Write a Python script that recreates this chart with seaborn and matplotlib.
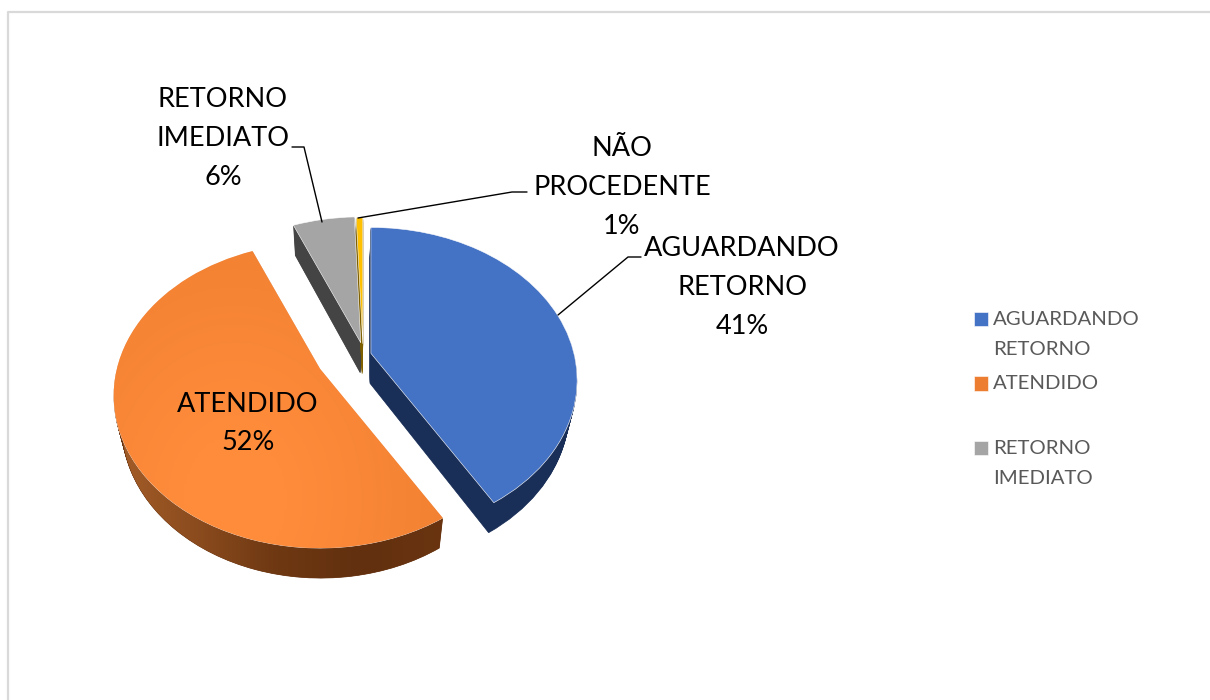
#!/usr/bin/env python3

import numpy as np
import matplotlib
matplotlib.use("Agg")
import matplotlib.pyplot as plt
from matplotlib.patches import Polygon, PathPatch
from matplotlib.transforms import Transform, Affine2D
import seaborn as sns

# Data
CATEGORIES = ["AGUARDANDO\nRETORNO", "ATENDIDO", "RETORNO\nIMEDIATO", "NÃO\nPROCEDENTE"]
VALUES = [41.4, 52.3, 5.7, 0.6]
EXPLODE = [0.13, 0.13, 0.124, 0.10]
LEGEND_LABELS = ["AGUARDANDO\nRETORNO", "ATENDIDO\n ", "RETORNO\nIMEDIATO"]

TOP_COLORS = ["#4472C4", "#ED7D31", "#A5A5A5", "#FFC000"]
SIDE_COLORS = ["#1A2F58", "#66320F", "#444444", "#7F6000"]

# Layout of the fake 3D pie, in output pixels
CX, CY = 345.5, 358.5
RX, RY, TILT = 203.0, 148.0, 0.175
DEPTH, SHRINK = 30, 0.965
NUDGE = [(0, 0), (-0.01, -0.01), (0.102, -0.015), (0.087, 0)]


class Perspective(Transform):
    ''' Tilts one flat slice around its tip, the far side gets smaller. '''
    input_dims = 2
    output_dims = 2

    def __init__(self, center):
        super().__init__()
        self.center = center

    def transform_non_affine(self, xy):
        u0, v0 = self.center
        xy = np.asarray(xy, dtype=float)
        u, v = xy[:, 0] - u0, xy[:, 1] - v0
        w = 1 + TILT * v
        return np.column_stack([CX + RX * u0 + RX * u / w, CY - RY * v0 - RY * v / w])


def drop(d):
    ''' Moves the top face down to depth d. '''
    s = 1 - (1 - SHRINK) * d / DEPTH
    return Affine2D().translate(-CX, 0).scale(s, 1).translate(CX, d)


sns.set_theme(style="white")
plt.rcParams["font.family"] = ["Lato", "DejaVu Sans"]

fig = plt.figure(figsize=(12.1, 7.0), dpi=100)
ax = fig.add_axes([0, 0, 1, 1])

palette = sns.color_palette(TOP_COLORS)
wedges = ax.pie(VALUES, explode=EXPLODE, startangle=90, counterclock=False, colors=palette,
                wedgeprops={"edgecolor": "#FFFFFF", "linewidth": 0.4, "zorder": 3})[0]

planes = []
for wedge, side, (nx, ny) in zip(wedges, SIDE_COLORS, NUDGE):
    wedge.set_center((wedge.center[0] + nx, wedge.center[1] + ny))
    plane = Perspective(wedge.center)
    planes.append(plane)
    wedge.set_transform(plane + ax.transData)
    # side wall: copies of the slice going down
    for d in range(1, DEPTH + 1):
        ax.add_patch(PathPatch(wedge.get_path(),
                               transform=wedge.get_patch_transform() + plane + drop(d) + ax.transData,
                               facecolor=side, edgecolor=side, linewidth=0.5, zorder=2))

# Orange slice has shading, on the top face and the round wall
orange = wedges[1]
theta = np.radians(np.linspace(max(orange.theta1, -185), orange.theta2, 200))
arc = np.column_stack([orange.center[0] + np.cos(theta), orange.center[1] + np.sin(theta)])
arc_top = planes[1].transform(arc)
arc_low = drop(DEPTH).transform(arc_top)
wall = Polygon(np.vstack([arc_top, arc_low[::-1]]), transform=ax.transData)

wall_cmap = sns.blend_palette(["#A55E29", "#8C4C1E", "#6E3812", "#62300F", "#6A3410"], as_cmap=True)
wall_img = ax.imshow(np.linspace(0, 1, 256)[None, :], cmap=wall_cmap, aspect="auto",
                     extent=(110, 445, 590, 400), zorder=2.5)
wall_img.set_clip_path(wall)

top_cmap = sns.blend_palette(["#EE7E30", "#FF8C3B"], as_cmap=True)
gx, gy = np.meshgrid(np.linspace(110, 445, 120), np.linspace(245, 555, 120))
glow = np.clip(1.25 - np.hypot((gx - 235) / 210, (gy - 500) / 260), 0, 1)
top_img = ax.imshow(glow, cmap=top_cmap, vmin=0, vmax=1, aspect="auto",
                    extent=(110, 445, 555, 245), zorder=3.5)
top_img.set_clip_path(orange)

# Chart frame, only top and left sides show
ax.plot([8, 8, 1210], [700, 12, 12], color="#D9D9D9", lw=1.6, zorder=1)

# Leader lines
line_style = {"color": "black", "lw": 1.0, "zorder": 4}
ax.plot([322, 304, 292], [222, 147, 147], **line_style)
ax.plot([358, 512, 527], [218, 192, 192], **line_style)
ax.plot([558, 628, 641], [315, 257, 257], **line_style)

# Data labels
label_style = {"ha": "center", "va": "center", "fontsize": 19.5, "color": "black",
               "linespacing": 1.69, "zorder": 6}
label_pos = [(742, 287.5), (248, 423.5), (223, 138.5), (622, 187.5)]
for txt, val, (lx, ly) in zip(CATEGORIES, VALUES, label_pos):
    ax.text(lx, ly, "{}\n{:.0f}%".format(txt, val), **label_style)

legend = ax.legend(wedges[:3], LEGEND_LABELS, loc="upper left", bbox_to_anchor=(974 / 1210, 1 - 311 / 700),
                   frameon=False, fontsize=14.7, labelcolor="#595959", borderpad=0, borderaxespad=0,
                   handlelength=0.7, handleheight=0.7, handletextpad=0.24, labelspacing=0.84)
for t in legend.get_texts():
    t.set_linespacing(1.95)
# handles sit in the middle of the two text lines by default, the reference has them on the first
for handle in legend.get_patches():
    handle.set_y(handle.get_y() + 11.2)

ax.set_aspect("auto")
ax.set_xlim(0, 1210)
ax.set_ylim(700, 0)
ax.axis("off")

fig.savefig("out.png", dpi=100, facecolor="white")
